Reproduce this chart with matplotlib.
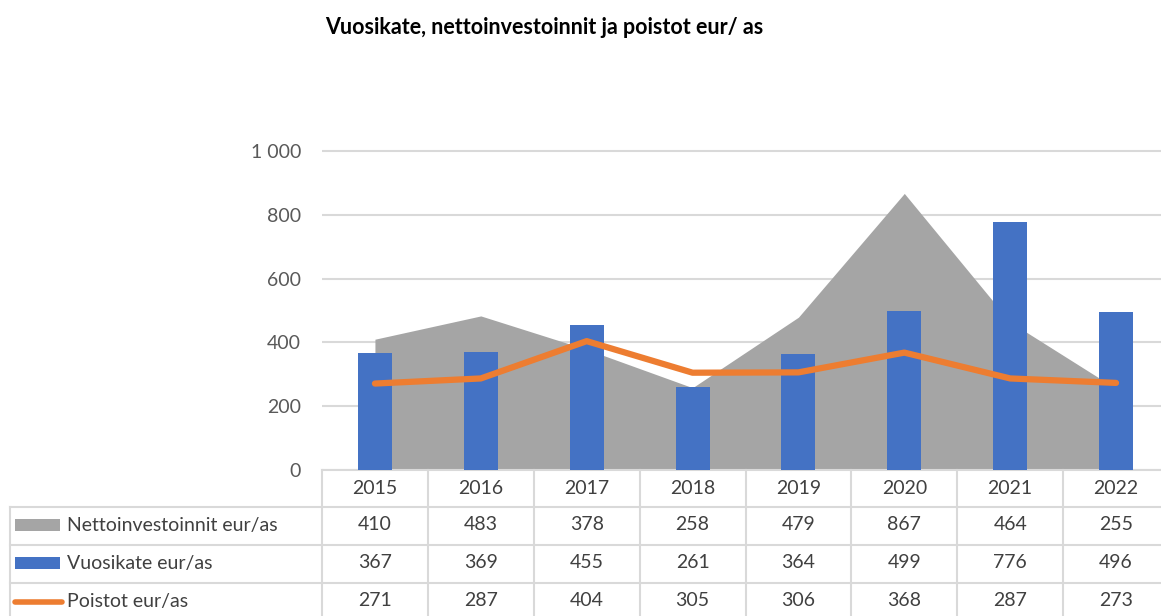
import matplotlib
matplotlib.use("Agg")
import matplotlib.pyplot as plt
import matplotlib.transforms as mtransforms
from matplotlib.lines import Line2D
from matplotlib.patches import Rectangle

years = ["2015", "2016", "2017", "2018", "2019", "2020", "2021", "2022"]
netto = [410, 483, 378, 258, 479, 867, 464, 255]
vuosikate = [367, 369, 455, 261, 364, 499, 776, 496]
poistot = [271, 287, 404, 305, 306, 368, 287, 273]
labels = ["Nettoinvestoinnit eur/as", "Vuosikate eur/as", "Poistot eur/as"]

GRAY = "#a5a5a5"
BLUE = "#4472c4"
ORANGE = "#ed7d31"
GRID = "#d9d9d9"
TXT = "#404040"

plt.rcParams['font.family'] = ['Lato', 'DejaVu Sans']

W, H = 1161, 616
fig = plt.figure(figsize=(W / 100, H / 100), dpi=100)

def fy(py):
    return 1 - py / H

def fx(px):
    return px / W

ymax = 1010
y0_px, y1000_px = 470, 151
ax_h = (y0_px - y1000_px) / H * ymax / 1000
ax = fig.add_axes([fx(322), fy(y0_px), fx(1169) - fx(322), ax_h])

x = list(range(len(years)))
ax.fill_between(x, netto, color=GRAY, lw=0, zorder=2)
ax.bar(x, vuosikate, width=0.32, color=BLUE, zorder=3)
ax.plot(x, poistot, color=ORANGE, lw=4.5, zorder=4, solid_capstyle="round",
        solid_joinstyle="round")

ax.set_xlim(-0.5, 7.5)
ax.set_ylim(0, ymax)
ax.set_yticks([0, 200, 400, 600, 800, 1000])
ax.set_yticklabels(["0", "200", "400", "600", "800", "1 000"])
ax.tick_params(axis="y", length=0, pad=15, labelsize=14, labelcolor="#595959")
ax.set_xticks([])
for s in ["top", "right", "left"]:
    ax.spines[s].set_visible(False)
ax.spines["bottom"].set_color(GRID)
ax.spines["bottom"].set_linewidth(1.5)
ax.set_axisbelow(True)
ax.yaxis.grid(True, color=GRID, lw=1.5)

fig.text(fx(544), fy(27), "Vuosikate, nettoinvestoinnit ja poistot eur/ as",
         ha="center", va="center", fontsize=15.5, fontweight="bold", color="black")

# data table under the axis
bt = mtransforms.blended_transform_factory(ax.transData, fig.transFigure)
rows_px = [507, 545, 583, 621]
for i in range(len(years) + 1):
    fig.add_artist(Line2D([i - 0.5, i - 0.5], [fy(470), fy(616)], transform=bt,
                          color=GRID, lw=1.5, clip_on=False))
for py in rows_px[:3]:
    fig.add_artist(Line2D([fx(10), 1], [fy(py), fy(py)], transform=fig.transFigure,
                          color=GRID, lw=1.5))
fig.add_artist(Line2D([fx(10), fx(10)], [fy(507), fy(616)], transform=fig.transFigure,
                      color=GRID, lw=1.5))

for i, yr in enumerate(years):
    ax.text(i, fy(489), yr, transform=bt, ha="center", va="center",
            fontsize=14, color=TXT)

series = [netto, vuosikate, poistot]
for r, vals in enumerate(series):
    yc = fy((rows_px[r] + rows_px[r + 1]) / 2 - 1)
    for i, v in enumerate(vals):
        ax.text(i, yc, str(v), transform=bt, ha="center", va="center",
                fontsize=14, color=TXT, clip_on=False)
    fig.text(fx(67), yc, labels[r], ha="left", va="center", fontsize=14, color=TXT)

# legend keys
fig.add_artist(Rectangle((fx(15), fy(531)), fx(45), fy(519) - fy(531),
                         transform=fig.transFigure, color=GRAY, lw=0))
fig.add_artist(Rectangle((fx(15), fy(569)), fx(45), fy(557) - fy(569),
                         transform=fig.transFigure, color=BLUE, lw=0))
fig.add_artist(Line2D([fx(15), fx(62)], [fy(602), fy(602)], transform=fig.transFigure,
                      color=ORANGE, lw=4, solid_capstyle="round"))

fig.savefig("out.png", dpi=100)
